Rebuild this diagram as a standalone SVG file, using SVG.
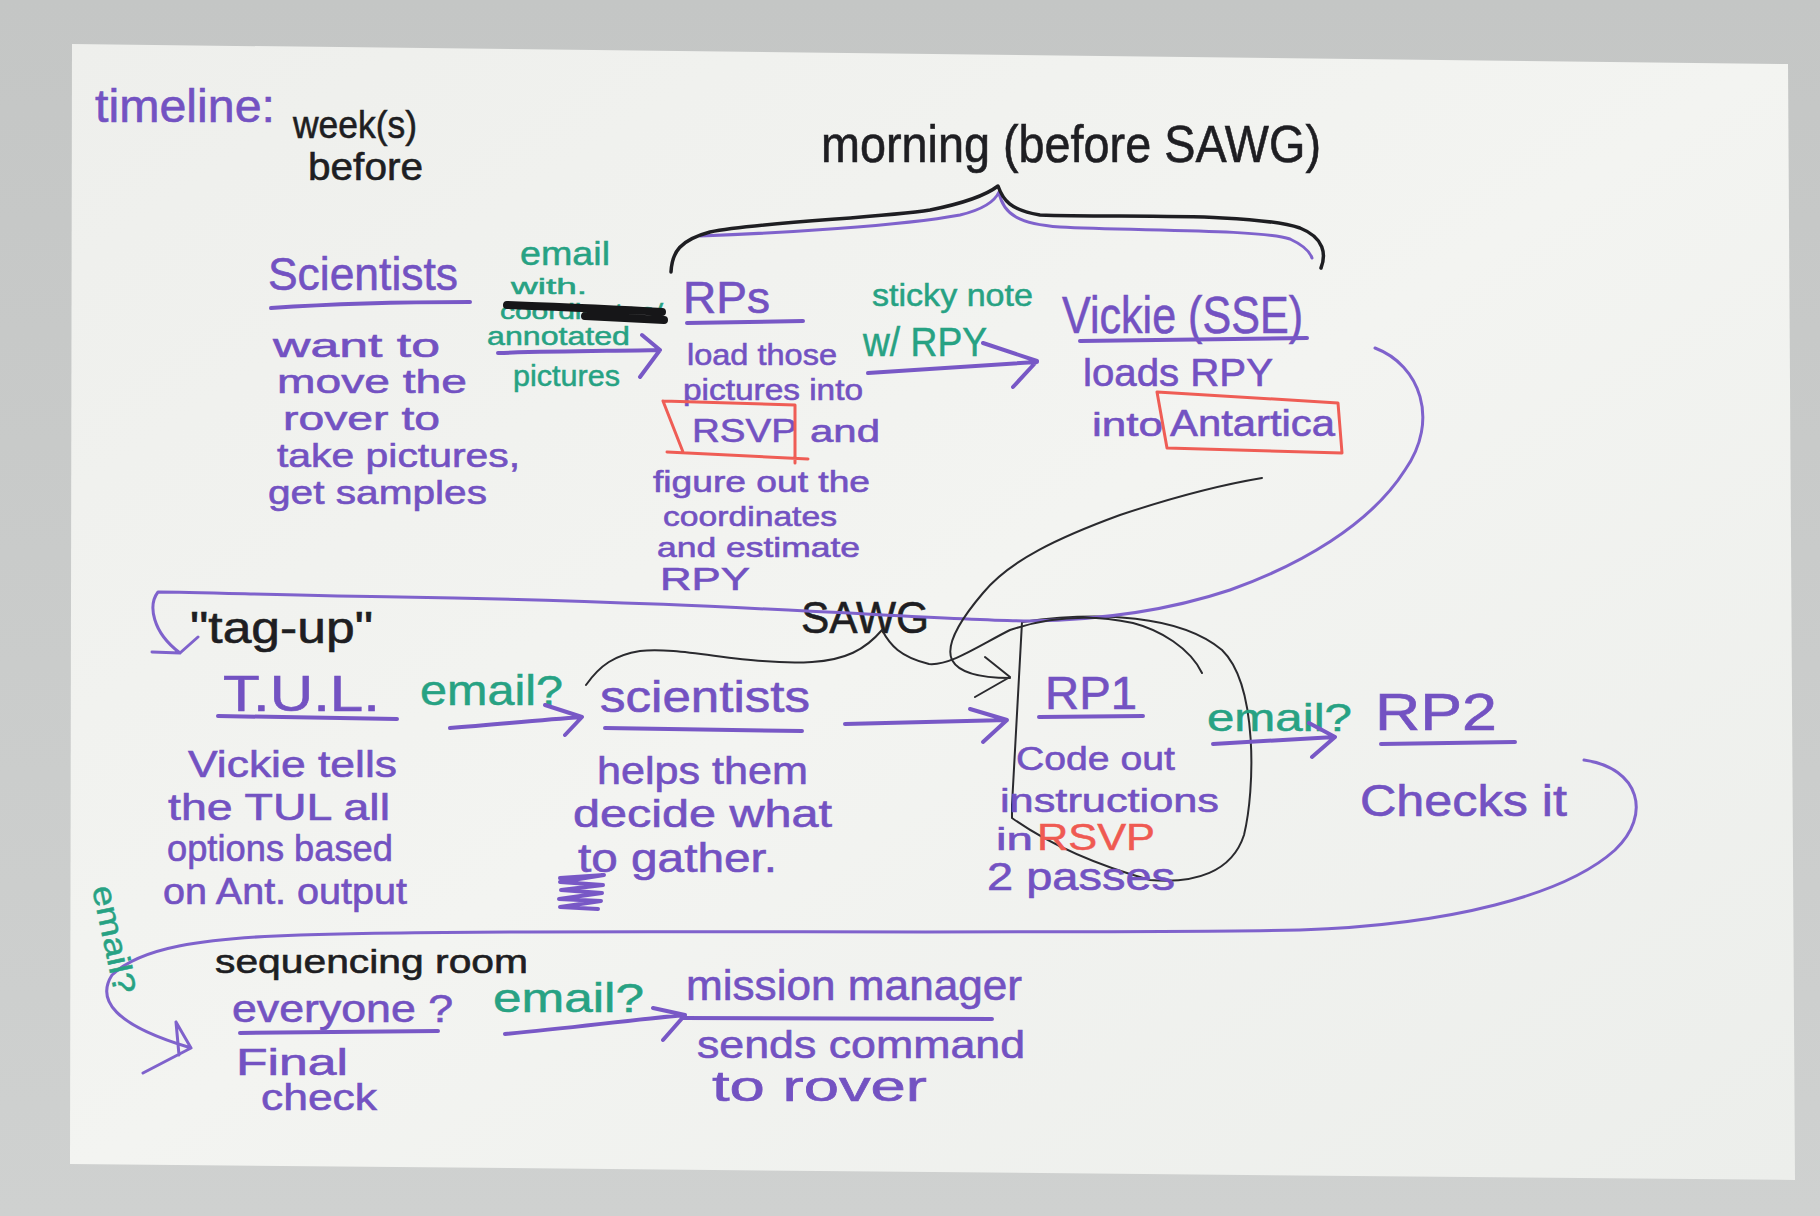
<svg xmlns="http://www.w3.org/2000/svg" width="1820" height="1216" viewBox="0 0 1820 1216">
<defs>
<linearGradient id="bg" x1="0" y1="0" x2="0" y2="1">
<stop offset="0" stop-color="#c4c6c5"/>
<stop offset="1" stop-color="#cfd1d0"/>
</linearGradient>
<linearGradient id="paper" x1="0" y1="0" x2="1" y2="1">
<stop offset="0" stop-color="#eeefec"/>
<stop offset="0.5" stop-color="#f3f4f1"/>
<stop offset="1" stop-color="#eceeeb"/>
</linearGradient>
<style>
text{font-family:"Liberation Sans",Arial,sans-serif;}
.p{fill:#7352c2;stroke:#7352c2;stroke-width:0.6}
.g{fill:#27a283;stroke:#27a283;stroke-width:0.5}
.k{fill:#1e1e22;stroke:#1e1e22;stroke-width:0.6}
.r{fill:#ef5a52;stroke:#ef5a52;stroke-width:0.5}
.lp{stroke:#7858c6;fill:none;stroke-width:4;stroke-linecap:round;stroke-linejoin:round}
.lpt{stroke:#7f62cc;fill:none;stroke-width:3;stroke-linecap:round;stroke-linejoin:round}
.lk{stroke:#1e1e22;fill:none;stroke-width:3.5;stroke-linecap:round;stroke-linejoin:round}
.lkt{stroke:#2a2a2e;fill:none;stroke-width:2;stroke-linecap:round;stroke-linejoin:round}
.lr{stroke:#ef5d55;fill:none;stroke-width:3;stroke-linecap:round;stroke-linejoin:round}
</style>
</defs>
<rect x="0" y="0" width="1820" height="1216" fill="url(#bg)"/>
<polygon points="72,44 1788,64 1795,1180 70,1164" fill="url(#paper)"/>

<g id="timeline">
<text class="p" x="95" y="122" font-size="46" textLength="180" lengthAdjust="spacingAndGlyphs">timeline:</text>
<text class="k" x="293" y="138" font-size="38" textLength="124" lengthAdjust="spacingAndGlyphs">week(s)</text>
<text class="k" x="308" y="180" font-size="38" textLength="115" lengthAdjust="spacingAndGlyphs">before</text>
</g>

<g id="morning">
<text class="k" x="821" y="162" font-size="52" textLength="500" lengthAdjust="spacingAndGlyphs">morning (before SAWG)</text>
<path class="lpt" d="M700,236 C780,233 900,226 960,215 C985,209 995,201 999,192 C1003,215 1020,224 1060,227 C1130,231 1260,229 1290,239 C1305,246 1310,252 1312,258"/>
<path class="lk" d="M671,272 C672,252 680,240 710,232 C760,222 880,218 930,210 C960,204 985,196 998,186 C1003,200 1010,210 1040,215 C1120,218 1250,212 1300,228 C1325,238 1326,255 1321,268"/>
</g>

<g id="scientists1">
<text class="p" x="268" y="290" font-size="46" textLength="190" lengthAdjust="spacingAndGlyphs">Scientists</text>
<path class="lp" d="M271,308 C330,304 400,302 470,302"/>
<text class="p" x="273" y="357" font-size="34" textLength="167" lengthAdjust="spacingAndGlyphs">want to</text>
<text class="p" x="277" y="393" font-size="34" textLength="190" lengthAdjust="spacingAndGlyphs">move the</text>
<text class="p" x="283" y="430" font-size="34" textLength="157" lengthAdjust="spacingAndGlyphs">rover to</text>
<text class="p" x="277" y="467" font-size="34" textLength="243" lengthAdjust="spacingAndGlyphs">take pictures,</text>
<text class="p" x="268" y="504" font-size="34" textLength="219" lengthAdjust="spacingAndGlyphs">get samples</text>
</g>

<g id="rps">
<text class="p" x="683" y="313" font-size="44" textLength="87" lengthAdjust="spacingAndGlyphs">RPs</text>
<path class="lp" d="M687,323 L803,321"/>
<text class="p" x="687" y="365" font-size="30" textLength="150" lengthAdjust="spacingAndGlyphs">load those</text>
<text class="p" x="683" y="400" font-size="30" textLength="180" lengthAdjust="spacingAndGlyphs">pictures into</text>
<text class="p" x="692" y="442" font-size="34" textLength="105" lengthAdjust="spacingAndGlyphs">RSVP</text>
<text class="p" x="810" y="442" font-size="32" textLength="70" lengthAdjust="spacingAndGlyphs">and</text>
<path class="lr" d="M663,401 L795,405 L795,463 M667,452 L808,459 M663,401 L683,452"/>
<text class="p" x="653" y="492" font-size="30" textLength="217" lengthAdjust="spacingAndGlyphs">figure out the</text>
<text class="p" x="663" y="526" font-size="28" textLength="174" lengthAdjust="spacingAndGlyphs">coordinates</text>
<text class="p" x="657" y="557" font-size="28" textLength="203" lengthAdjust="spacingAndGlyphs">and estimate</text>
<text class="p" x="660" y="590" font-size="32" textLength="90" lengthAdjust="spacingAndGlyphs">RPY</text>
</g>

<g id="vickie">
<text class="p" x="1062" y="333" font-size="52" textLength="241" lengthAdjust="spacingAndGlyphs">Vickie (SSE)</text>
<path class="lp" d="M1080,341 L1307,338"/>
<text class="p" x="1083" y="386" font-size="38" textLength="190" lengthAdjust="spacingAndGlyphs">loads RPY</text>
<text class="p" x="1092" y="436" font-size="34" textLength="71" lengthAdjust="spacingAndGlyphs">into</text>
<text class="p" x="1170" y="436" font-size="36" textLength="165" lengthAdjust="spacingAndGlyphs">Antartica</text>
<path class="lr" d="M1157,392 L1338,403 L1342,453 L1167,448 Z"/>
</g>

<g id="tagup">
<text class="k" x="190" y="643" font-size="44" textLength="183" lengthAdjust="spacingAndGlyphs">"tag-up"</text>
</g>

<g id="sawg">
<text class="k" x="801" y="633" font-size="44" textLength="128" lengthAdjust="spacingAndGlyphs">SAWG</text>
</g>

<g id="tul">
<text class="p" x="223" y="711" font-size="50" textLength="157" lengthAdjust="spacingAndGlyphs">T.U.L.</text>
<path class="lp" d="M218,716 L397,719"/>
<text class="p" x="188" y="777" font-size="36" textLength="209" lengthAdjust="spacingAndGlyphs">Vickie tells</text>
<text class="p" x="168" y="820" font-size="36" textLength="222" lengthAdjust="spacingAndGlyphs">the TUL all</text>
<text class="p" x="167" y="861" font-size="36" textLength="226" lengthAdjust="spacingAndGlyphs">options based</text>
<text class="p" x="163" y="904" font-size="36" textLength="244" lengthAdjust="spacingAndGlyphs">on Ant. output</text>
</g>

<g id="scientists2">
<text class="p" x="600" y="712" font-size="44" textLength="210" lengthAdjust="spacingAndGlyphs">scientists</text>
<path class="lp" d="M605,728 L802,731"/>
<text class="p" x="597" y="784" font-size="38" textLength="211" lengthAdjust="spacingAndGlyphs">helps them</text>
<text class="p" x="573" y="827" font-size="38" textLength="259" lengthAdjust="spacingAndGlyphs">decide what</text>
<text class="p" x="578" y="872" font-size="40" textLength="199" lengthAdjust="spacingAndGlyphs">to gather.</text>
<path class="lp" d="M560,878 L604,875 L560,882 L603,885 L561,890 L602,893 L559,899 L601,901 L560,907 L598,909" stroke-width="4.5"/>
</g>

<g id="rp1">
<path class="lkt" d="M1022,622 C1100,611 1180,615 1222,650 C1258,685 1255,790 1244,835 C1232,872 1195,884 1150,880 C1100,866 1050,845 1012,818 L1012,805 L1022,622"/>
<text class="p" x="1045" y="709" font-size="46" textLength="92" lengthAdjust="spacingAndGlyphs">RP1</text>
<path class="lp" d="M1039,717 L1143,716"/>
<text class="p" x="1016" y="770" font-size="34" textLength="159" lengthAdjust="spacingAndGlyphs">Code out</text>
<text class="p" x="1000" y="812" font-size="34" textLength="219" lengthAdjust="spacingAndGlyphs">instructions</text>
<text class="p" x="996" y="850" font-size="32" textLength="37" lengthAdjust="spacingAndGlyphs">in</text>
<text class="r" x="1037" y="850" font-size="36" textLength="118" lengthAdjust="spacingAndGlyphs">RSVP</text>
<text class="p" x="987" y="890" font-size="38" textLength="188" lengthAdjust="spacingAndGlyphs">2 passes</text>
</g>

<g id="rp2">
<text class="p" x="1375" y="730" font-size="52" textLength="122" lengthAdjust="spacingAndGlyphs">RP2</text>
<path class="lp" d="M1381,744 L1515,742"/>
<text class="p" x="1360" y="816" font-size="44" textLength="207" lengthAdjust="spacingAndGlyphs">Checks it</text>
</g>

<g id="sequencing">
<text class="k" x="215" y="973" font-size="34" textLength="313" lengthAdjust="spacingAndGlyphs">sequencing room</text>
<text class="p" x="232" y="1022" font-size="38" textLength="221" lengthAdjust="spacingAndGlyphs">everyone ?</text>
<path class="lp" d="M240,1033 L438,1031"/>
<text class="p" x="236" y="1075" font-size="36" textLength="112" lengthAdjust="spacingAndGlyphs">Final</text>
<text class="p" x="261" y="1110" font-size="36" textLength="116" lengthAdjust="spacingAndGlyphs">check</text>
</g>

<g id="missionmanager">
<text class="p" x="686" y="1000" font-size="42" textLength="336" lengthAdjust="spacingAndGlyphs">mission manager</text>
<path class="lp" d="M683,1018 L992,1019"/>
<text class="p" x="697" y="1058" font-size="38" textLength="328" lengthAdjust="spacingAndGlyphs">sends command</text>
<text class="p" x="712" y="1101" font-size="42" textLength="215" lengthAdjust="spacingAndGlyphs">to rover</text>
</g>

<g id="connectors">
<text class="g" x="520" y="265" font-size="34" textLength="90" lengthAdjust="spacingAndGlyphs">email</text>
<text class="g" x="511" y="294" font-size="22" textLength="76" lengthAdjust="spacingAndGlyphs">with.</text>
<text class="g" x="500" y="319" font-size="22" textLength="163" lengthAdjust="spacingAndGlyphs">coordinates/</text>
<path d="M507,305 C560,307 610,309 662,312 M585,316 L664,320" stroke="#161618" stroke-width="8" fill="none" stroke-linecap="round"/>
<text class="g" x="487" y="345" font-size="26" textLength="143" lengthAdjust="spacingAndGlyphs">annotated</text>
<path class="lp" d="M498,353 C560,351 610,351 660,350 M642,335 L660,350 L640,377"/>
<text class="g" x="513" y="386" font-size="30" textLength="107" lengthAdjust="spacingAndGlyphs">pictures</text>

<text class="g" x="872" y="306" font-size="32" textLength="161" lengthAdjust="spacingAndGlyphs">sticky note</text>
<text class="g" x="863" y="356" font-size="40" textLength="124" lengthAdjust="spacingAndGlyphs">w/ RPY</text>
<path class="lp" d="M868,373 C930,369 990,365 1037,362 M983,343 L1037,361 L1013,387"/>

<path class="lpt" d="M1375,348 C1420,365 1440,420 1405,470 C1370,525 1300,565 1230,590 C1170,610 1100,620 1030,621 C950,621 700,601 400,597 C300,596 200,592 158,592 C148,605 152,632 180,653 M198,637 L180,653 L152,652"/>

<text class="g" x="420" y="705" font-size="42" textLength="143" lengthAdjust="spacingAndGlyphs">email?</text>
<path class="lp" d="M450,728 C500,724 540,720 582,717 M545,705 L582,717 L565,735"/>

<path class="lp" d="M845,724 L1007,720 M970,709 L1007,720 L983,742"/>

<path class="lkt" d="M586,685 C600,665 615,655 640,651 C680,646 750,666 812,662 C845,660 865,650 882,630 C890,645 900,657 929,664 C950,666 980,645 1010,630 C1040,620 1080,612 1133,623 C1160,630 1190,648 1202,673" stroke-width="2.5"/>

<path class="lkt" d="M1262,478 C1220,485 1180,495 1120,515 C1060,537 1010,560 983,593 C960,620 945,645 952,660 C960,675 985,678 1010,678 M985,657 L1010,677 L975,697" stroke-width="2.5"/>

<text class="g" x="1207" y="731" font-size="38" textLength="145" lengthAdjust="spacingAndGlyphs">email?</text>
<path class="lp" d="M1213,744 C1260,741 1300,739 1335,737 M1309,723 L1335,737 L1312,757"/>

<path class="lpt" d="M1584,760 C1640,768 1652,815 1615,850 C1565,895 1450,925 1300,930 C1000,935 500,928 300,935 C200,938 140,948 112,975 C96,1000 115,1025 188,1047 M176,1022 L179,1055 M176,1022 L191,1048 L143,1073"/>
<text class="g" x="0" y="0" font-size="32" textLength="110" lengthAdjust="spacingAndGlyphs" transform="translate(92,888) rotate(78)">email?</text>

<text class="g" x="493" y="1012" font-size="40" textLength="151" lengthAdjust="spacingAndGlyphs">email?</text>
<path class="lp" d="M505,1034 C570,1028 630,1020 685,1015 M653,1008 L685,1015 L663,1040"/>
</g>
</svg>
